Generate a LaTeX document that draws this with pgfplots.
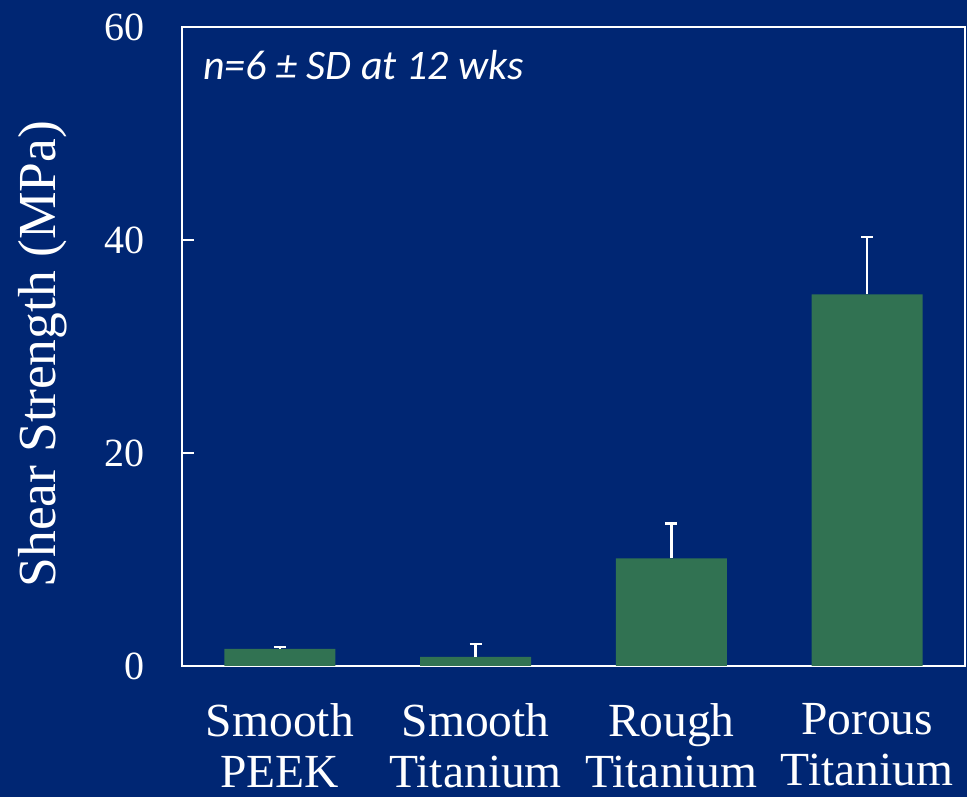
\documentclass[border=0pt]{standalone}
\usepackage{pgfplots}
\pgfplotsset{compat=1.18}
\usepackage{fontspec}
\setmainfont{Liberation Serif}
\newfontfamily\calib{Carlito}
\definecolor{bg}{RGB}{0,38,115}
\definecolor{barg}{RGB}{49,114,82}
\begin{document}
\begin{tikzpicture}
\path[use as bounding box, fill=bg] (0,0) rectangle (967bp,797bp);
\begin{axis}[
  at={(182bp,131bp)}, anchor=south west,
  width=783bp, height=639bp, scale only axis,
  xmin=-0.5, xmax=3.5, ymin=0, ymax=60,
  xtick={0,1,2,3},
  xticklabels={Smooth\\PEEK, Smooth\\Titanium, Rough\\Titanium, Porous\\Titanium},
  ytick={0,20,40,60},
  ytick pos=left,
  tick align=inside,
  major tick length=12bp,
  major x tick style={draw=none},
  major y tick style={white, line width=2.5bp},
  axis line style={white, line width=2.5bp},
  /pgf/number format/assume math mode=true,
  yticklabel style={font=\fontsize{40bp}{48bp}\selectfont, text=white, inner sep=0pt, anchor=east, xshift=-37bp},
  xticklabel style={font=\fontsize{47.5bp}{51bp}\selectfont, text=white, align=center, inner sep=0pt, anchor=north, yshift=-25bp},
  ylabel={Shear Strength (MPa)},
  ylabel style={font=\fontsize{53.5bp}{60bp}\selectfont, text=white, inner sep=0pt, at={(axis description cs:-0.146,0.488)}, anchor=south},
  ybar, bar width=111bp,
]
\addplot[fill=barg, draw=none,
  error bars/.cd, y dir=plus, y explicit,
  error bar style={white, line width=2.5bp},
  error mark options={rotate=90, mark size=6bp, white, line width=2.5bp}]
  coordinates {(0,1.6) +- (0,0.2) (1,0.85) +- (0,1.2) (2,10.1) +- (0,3.3) (3,34.9) +- (0,5.4)};
\node[anchor=base west, inner sep=0pt, text=white, font=\calib\itshape\fontsize{42bp}{46bp}\selectfont]
  at (rel axis cs:0,1) [xshift=21bp, yshift=-53bp] {n=6 ± SD at 12 wks};
\end{axis}
\end{tikzpicture}
\end{document}
